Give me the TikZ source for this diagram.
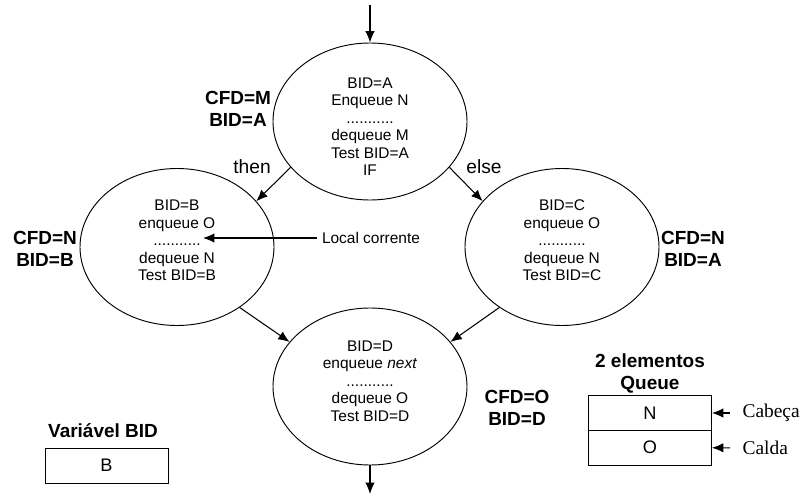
\documentclass[tikz,border=0pt]{standalone}
\usepackage{fontspec}
\setmainfont{Liberation Sans}
\newfontfamily\cabfont{Liberation Serif}
\usetikzlibrary{shapes.geometric,arrows.meta}

\tikzset{
  blockstate/.style={draw, ellipse, line width=0.8pt, minimum width=5.82cm, minimum height=4.71cm, inner sep=0pt},
  blocktext/.style={align=center, inner sep=0pt, font=\fontsize{13.2}{14.9}\selectfont},
  branch/.style={font=\fontsize{16.4}{19}\selectfont},
  flag/.style={align=center, font=\fontsize{16.2}{18.8}\selectfont\bfseries},
  cell/.style={draw, line width=0.8pt, minimum width=3.69cm, minimum height=1.05cm, font=\fontsize{15.5}{18}\selectfont},
  pointer/.style={anchor=west, inner xsep=0.36cm, font=\fontsize{16.6}{19}\selectfont\cabfont},
}

\begin{document}
\begin{tikzpicture}[x=0.03cm, y=-0.03cm, line width=0.9pt, >={Latex[length=0.34cm,width=0.28cm]}]
        \useasboundingbox (0,0) rectangle (802,500);
        % blocos
        \node[blockstate] (top) at (370,121.5) {};
        \node[blockstate] (left) at (177,247) {};
        \node[blockstate] (right) at (562,247) {};
        \node[blockstate] (bottom) at (370,386.5) {};
        \node[blocktext] (toptxt) at (370,126.5) {BID=A\\Enqueue N\\...........\\dequeue M\\Test BID=A\\IF};
        \node[blocktext] (lefttxt) at (177,240.5) {BID=B\\enqueue O\\...........\\dequeue N\\Test BID=B};
        \node[blocktext] (righttxt) at (562,240.5) {BID=C\\enqueue O\\...........\\dequeue N\\Test BID=C};
        \node[blocktext] (bottomtxt) at (370,381) {BID=D\\enqueue \textit{next}\\...........\\dequeue O\\Test BID=D};
        \node[flag] (cfdtop) at (238,109) {CFD=M\\BID=A};
        \node[flag] (cfdleft) at (45,249) {CFD=N\\BID=B};
        \node[flag] (cfdright) at (693,249) {CFD=N\\BID=A};
        \node[flag] (cfdbottom) at (517,408) {CFD=O\\BID=D};
        \node[branch] (thenlbl) at (252,167) {then};
        \node[branch] (elselbl) at (484,167) {else};
        \node[blocktext, inner sep=4pt] (cur) at (371,238) {Local corrente};
        \coordinate (here) at (203,238);
        \coordinate (entry) at (370,5);
        \coordinate (exit) at (370,494);
        % fluxo
        \draw[->] (entry) -- (top);
        \draw[->] (top.210) -- (left.30);
        \draw[->] (top.330) -- (right.150);
        \draw[->] (left.316) -- (bottom.151);
        \draw[->] (right.224) -- (bottom.29);
        \draw[->] (bottom) -- (exit);
        \draw[->] (cur) -- (here);
        % variavel e fila
        \node[cell] (bidbox) at (106.5,465.5) {B};
        \node[flag] (bidlbl) at (103,431) {Variável BID};
        \node[cell] (nbox) at (650,413) {N};
        \node[cell] (obox) at (650,447.5) {O};
        \node[flag] (qlbl) at (650,373) {2 elementos\\Queue};
        \node[pointer] (cab) at (730,413) {Cabeça};
        \node[pointer] (cal) at (730,448) {Calda};
        \draw[->] (cab) -- (nbox);
        \draw[->] (cal) -- (obox);
      \end{tikzpicture}
\end{document}
